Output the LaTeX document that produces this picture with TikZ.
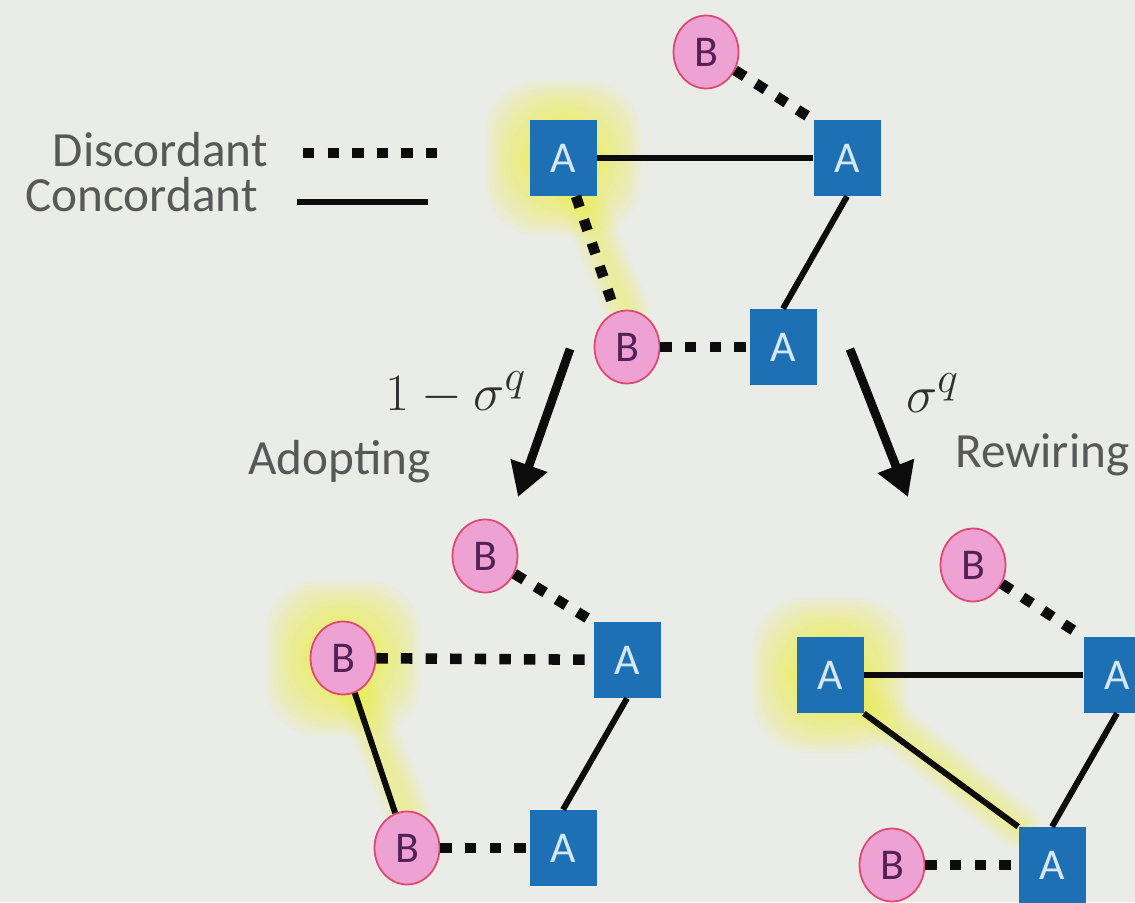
\documentclass[tikz,border=0pt]{standalone}
\usepackage{fontspec}
\setmainfont{Carlito}
\usetikzlibrary{arrows.meta,shapes.geometric}
\definecolor{paper}{RGB}{234,236,232}
\definecolor{cube}{RGB}{30,112,180}
\definecolor{cubetext}{RGB}{214,232,248}
\definecolor{petal}{RGB}{238,162,212}
\definecolor{petalrim}{RGB}{222,72,112}
\definecolor{plum}{RGB}{84,34,86}
\definecolor{ink}{RGB}{12,12,12}
\definecolor{slate}{RGB}{88,88,88}
\definecolor{glow}{RGB}{240,240,50}
\pgfdeclarelayer{backdrop}
\pgfdeclarelayer{shine}
\pgfsetlayers{backdrop,shine,main}
\tikzset{
  nodeA/.style={rectangle,fill=cube,text=cubetext,minimum width=1.34cm,minimum height=1.52cm,
    inner sep=0pt,font=\fontsize{25}{25}\selectfont},
  nodeB/.style={ellipse,draw=petalrim,line width=1pt,fill=petal,text=plum,minimum width=1.3cm,
    minimum height=1.46cm,inner sep=0pt,font=\fontsize{25}{25}\selectfont},
  disc/.style={draw=ink,line width=6pt,dash pattern=on 6.5pt off 7.5pt},
  conc/.style={draw=ink,line width=3.4pt},
  move/.style={-{Triangle[length=19pt,width=21pt]},line width=5pt,draw=ink},
  tag/.style={font=\fontsize{28}{30}\selectfont,text=slate,inner sep=0pt},
  halo/.style={glow,opacity=0.08},
}
\begin{document}
\begin{tikzpicture}[x=0.02cm,y=-0.02cm]
  \useasboundingbox (0,0) rectangle (1135,902);
  \begin{pgfonlayer}{backdrop}
    \fill[paper] (0,0) rectangle (1135,902);
  \end{pgfonlayer}

  % legend
  \node[tag,anchor=base east] (legD) at (268,167) {Discordant};
  \node[tag,anchor=base east] (legC) at (258,212) {Concordant};
  \coordinate (legD0) at (303,153); \coordinate (legD1) at (440,153);
  \coordinate (legC0) at (297,202); \coordinate (legC1) at (428,202);
  \draw[disc] (legD0) -- (legD1);
  \draw[conc] (legC0) -- (legC1);

  % before the step
  \node[nodeB] (tB1) at (706,52) {B};
  \node[nodeA] (tA1) at (563,158) {A};
  \node[nodeA] (tA2) at (847,158) {A};
  \node[nodeB] (tB2) at (627,347) {B};
  \node[nodeA] (tA3) at (783,347) {A};
  \draw[disc] (tB1) -- (tA2.north west);
  \draw[conc] (tA1) -- (tA2);
  \draw[conc] (tA2.south) -- (tA3.north);
  \draw[disc] (tA1) -- (tB2);
  \draw[disc] (tB2) -- (tA3);

  % adopting
  \node[nodeB] (lB1) at (485,556) {B};
  \node[nodeB] (lB2) at (343,658) {B};
  \node[nodeA] (lA1) at (627,660) {A};
  \node[nodeB] (lB3) at (407,848) {B};
  \node[nodeA] (lA2) at (563,848) {A};
  \draw[disc] (lB1) -- (lA1.north west);
  \draw[disc] (lB2) -- (lA1);
  \draw[conc] (lB2) -- (lB3);
  \draw[conc] (lA1.south) -- (lA2.north);
  \draw[disc] (lB3) -- (lA2);

  % rewiring
  \node[nodeB] (rB1) at (973,565) {B};
  \node[nodeA] (rA1) at (830,675) {A};
  \node[nodeA] (rA2) at (1117,675) {A};
  \node[nodeB] (rB2) at (892,865) {B};
  \node[nodeA] (rA3) at (1052,865) {A};
  \draw[disc] (rB1) -- (rA2.north west);
  \draw[conc] (rA1) -- (rA2);
  \draw[conc] (rA1.south east) -- (rA3.north west);
  \draw[conc] (rA2.south) -- (rA3.north);
  \draw[disc] (rB2) -- (rA3);

  % highlighted node and link
  \begin{pgfonlayer}{shine}
    \foreach \n/\m in {tA1/tB2.north,lB2/lB3.north,rA1/rA3.north west}{
      \foreach \s in {78,74,...,34}
        \fill[halo,rounded corners=30pt] ([shift={(-\s,-\s)}]\n.center) rectangle ([shift={(\s,\s)}]\n.center);
      \foreach \w in {26,22,...,6}
        \draw[halo,line width=\w pt,line cap=round] (\n.center) -- (\m);
    }
  \end{pgfonlayer}

  % the two outcomes
  \coordinate (adoptS) at (570,349); \coordinate (adoptE) at (518,497);
  \coordinate (rewireS) at (850,349); \coordinate (rewireE) at (908,497);
  \draw[move] (adoptS) -- (adoptE);
  \draw[move] (rewireS) -- (rewireE);
  \node[tag,text=ink!85,anchor=base west] (pAdopt) at (385,410) {\scalebox{1.2}{$1-\sigma^q$}};
  \node[tag,anchor=base west] (adopt) at (248,474) {Adopting};
  \node[tag,text=ink!85,anchor=base west] (pRewire) at (906,412) {\scalebox{1.2}{$\sigma^q$}};
  \node[tag,anchor=base west] (rewire) at (955,467) {Rewiring};
\end{tikzpicture}
\end{document}
